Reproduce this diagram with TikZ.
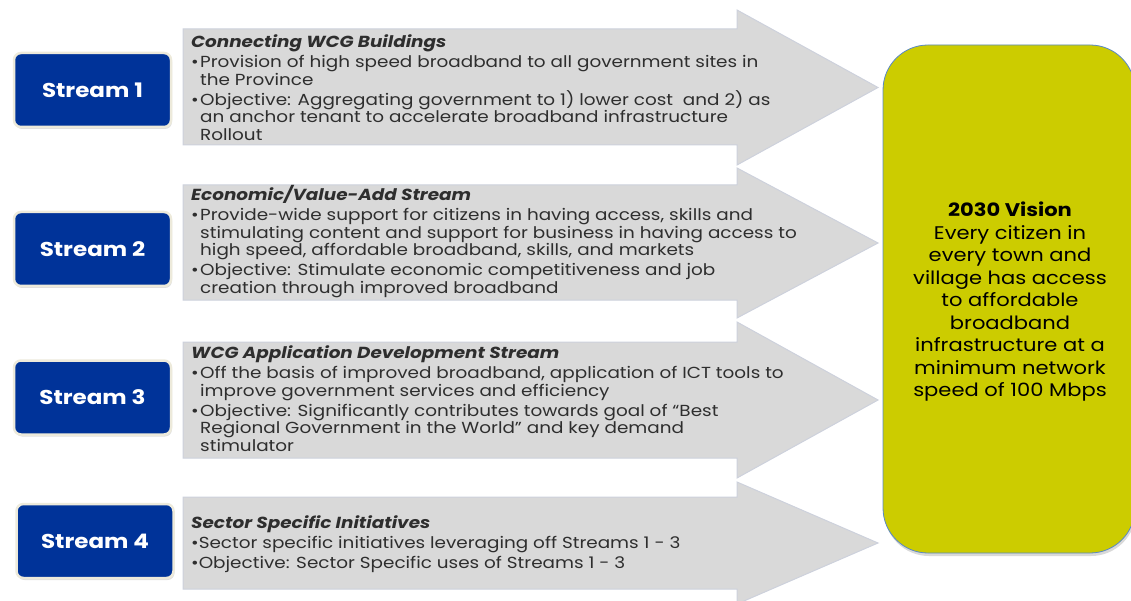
\documentclass[tikz,border=0pt]{standalone}
\usepackage{fontspec}
\setmainfont{Poppins}[FakeStretch=1.15]
\usetikzlibrary{shadows}

\definecolor{streamblue}{HTML}{003399}
\definecolor{streamrim}{HTML}{EDEADB}
\definecolor{arrowgray}{HTML}{D9D9D9}
\definecolor{arrowedge}{HTML}{CDD1DC}
\definecolor{visionfill}{HTML}{CCCC00}
\definecolor{visionedge}{HTML}{5A88C6}
\definecolor{bodytext}{HTML}{2E2E2E}

% bullet with hanging indent for the stream descriptions
\newcommand\blt{\makebox[9pt][l]{\textbullet}}
\newcommand\hang{\hspace*{9pt}}

% one grey block arrow: body top, body bottom, head top, head bottom, tip height
\newcommand\blockarrow[5]{%
  \filldraw[arrowshape] (183,#1) -- (737,#1) -- (737,#3) -- (878,#5)
    -- (737,#4) -- (737,#2) -- (183,#2) -- cycle;}

\begin{document}
\begin{tikzpicture}[x=1pt,y=-1pt,
  arrowshape/.style={fill=arrowgray, draw=arrowedge, line width=1pt},
  streambox/.style={fill=streamblue, draw=streamrim, line width=2.5pt,
    rounded corners=7pt, minimum width=157pt, minimum height=74pt,
    text=white, font=\bfseries\fontsize{20}{22}\selectfont,
    drop shadow={shadow xshift=1pt, shadow yshift=-2pt, opacity=0.25}},
  desc/.style={anchor=north west, inner sep=0pt, align=left, text=bodytext,
    font=\fontsize{16}{17.5}\selectfont},
  vision/.style={rounded corners=45pt, fill=visionfill, draw=visionedge,
    line width=0.8pt,
    drop shadow={shadow xshift=1pt, shadow yshift=-3pt, opacity=0.3}}]
\useasboundingbox (0,0) rectangle (1131,601);

% block arrows
\blockarrow{29}{145}{10}{165}{87.5}
\blockarrow{185}{300}{168}{318}{243}
\blockarrow{342}{458}{322}{478}{400}
\blockarrow{497}{589}{482}{604}{543}

% vision panel
\path[vision] (883,45) rectangle (1135,553);
\node[align=center, font=\fontsize{18.3}{22.5}\selectfont, text=black]
  (vision) at (1010,302)
  {\textbf{2030 Vision}\\ Every citizen in\\ every town and\\ village has access\\
   to affordable\\ broadband\\ infrastructure at a\\ minimum network\\ speed of 100 Mbps};

% stream labels
\node[streambox] (s1) at (92.5,90) {Stream 1};
\node[streambox] (s2) at (92.5,249) {Stream 2};
\node[streambox] (s3) at (92.5,397.5) {Stream 3};
\node[streambox] (s4) at (95,541) {Stream 4};

% stream descriptions
\node[desc] (d1) at (191,34.5) {%
  \textbf{\textit{Connecting WCG Buildings}}\\[2.5pt]
  \blt Provision of high speed broadband to all government sites in\\
  \hang the Province\\[2.5pt]
  \blt Objective: Aggregating government to 1) lower cost\ \ and 2) as\\
  \hang an anchor tenant to accelerate broadband infrastructure\\
  \hang Rollout};
\node[desc] (d2) at (191,185.5) {%
  \textbf{\textit{Economic/Value-Add Stream}}\\[2.5pt]
  \blt Provide-wide support for citizens in having access, skills and\\
  \hang stimulating content and support for business in having access to\\
  \hang high speed, affordable broadband, skills, and markets\\[2.5pt]
  \blt Objective: Stimulate economic competitiveness and job\\
  \hang creation through improved broadband};
\node[desc] (d3) at (191,345.5) {%
  \textbf{\textit{WCG Application Development Stream}}\\[2.5pt]
  \blt Off the basis of improved broadband, application of ICT tools to\\
  \hang improve government services and efficiency\\[2.5pt]
  \blt Objective: Significantly contributes towards goal of ``Best\\
  \hang Regional Government in the World'' and key demand\\
  \hang stimulator};
\node[desc] (d4) at (191,515.5) {%
  \textbf{\textit{Sector Specific Initiatives}}\\[2.5pt]
  \textbullet Sector specific initiatives leveraging off Streams 1 - 3\\[2.5pt]
  \textbullet Objective: Sector Specific uses of Streams 1 - 3};
\end{tikzpicture}
\end{document}
